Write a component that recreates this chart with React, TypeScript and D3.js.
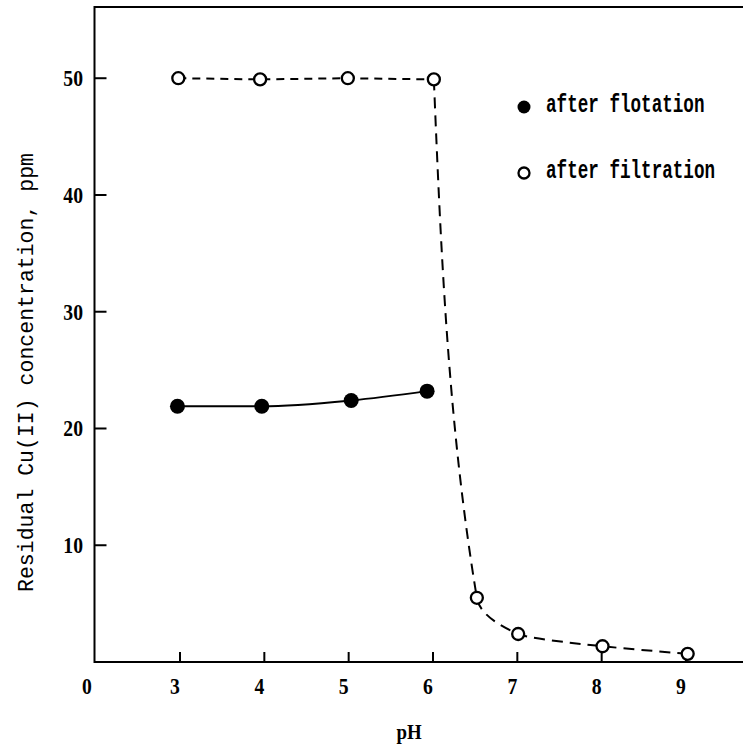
import React from "react";
import * as d3 from "d3";

// Residual Cu(II) concentration (ppm) versus pH
const filtrationPH = [2.98, 3.95, 4.99, 6.01, 6.52, 7.01, 8.01, 9.02];
const filtrationCu = [50.0, 49.9, 50.0, 49.9, 5.5, 2.4, 1.35, 0.7];
const flotationPH = [2.97, 3.97, 5.03, 5.93];
const flotationCu = [21.9, 21.9, 22.4, 23.2];

const xTickValues = [3, 4, 5, 6, 7, 8, 9];
const yTickValues = [10, 20, 30, 40, 50];
const legendLabels = ["after flotation", "after filtration"];
const xTitle = "pH";
const yTitle = "Residual Cu(II) concentration, ppm";

const W = 743;
const H = 747;
const frame = { left: 94.5, top: 7, bottom: 662, right: 743 };

const digitFont = "'Liberation Serif', 'DejaVu Serif', serif";
const monoFont = "'Liberation Mono', 'DejaVu Sans Mono', monospace";

// condensed bold numeral, anchored at (x, y)
function Num({ x, y, anchor, children }: { x: number; y: number; anchor: string; children: React.ReactNode }) {
  return (
    <text
      transform={`translate(${x},${y}) scale(0.82,1)`}
      textAnchor={anchor}
      fontFamily={digitFont}
      fontWeight="bold"
      fontSize={24}
      fill="#000"
    >
      {children}
    </text>
  );
}

export default function App() {
  const x = d3.scaleLinear().domain([3, 9]).range([180, 686]);
  const y = d3.scaleLinear().domain([0, 56.1]).range([frame.bottom, frame.top]);

  const filtration = filtrationPH.map((p, i) => [p, filtrationCu[i]] as [number, number]);
  const flotation = flotationPH.map((p, i) => [p, flotationCu[i]] as [number, number]);

  // plateau before the drop, then the steep decline traced as x(y)
  const plateau = filtration.slice(0, 4);
  const decline = filtration.slice(3);

  const linePlateau = d3
    .line<[number, number]>()
    .x((d) => x(d[0]))
    .y((d) => y(d[1]))
    .curve(d3.curveLinear);
  const lineDecline = d3
    .line<[number, number]>()
    .x((d) => x(d[0]))
    .y((d) => y(d[1]))
    .curve(d3.curveMonotoneY);
  const lineFlot = d3
    .line<[number, number]>()
    .x((d) => x(d[0]))
    .y((d) => y(d[1]))
    .curve(d3.curveMonotoneX);

  const legendX = 524;
  const legendY = [107, 173];

  return (
    <svg
      width={W}
      height={H}
      viewBox={`0 0 ${W} ${H}`}
      style={{ position: "absolute", left: 0, top: 0, background: "#fff" }}
    >
      <rect x={0} y={0} width={W} height={H} fill="#fff" />

      {/* frame: top, left and bottom edges */}
      <path
        d={`M${frame.right},${frame.top}H${frame.left}V${frame.bottom}H${frame.right}`}
        fill="none"
        stroke="#000"
        strokeWidth={2}
      />

      {/* y ticks and labels */}
      {yTickValues.map((v) => (
        <g key={`y${v}`}>
          <line x1={frame.left} x2={frame.left + 12} y1={y(v)} y2={y(v)} stroke="#000" strokeWidth={2} />
          <Num x={83} y={y(v) + 8} anchor="end">
            {v}
          </Num>
        </g>
      ))}

      {/* x ticks and labels */}
      {xTickValues.map((v) => (
        <g key={`x${v}`}>
          <line x1={x(v)} x2={x(v)} y1={frame.bottom} y2={frame.bottom - 10} stroke="#000" strokeWidth={2} />
          <Num x={x(v) - 5} y={694} anchor="middle">
            {v}
          </Num>
        </g>
      ))}
      <Num x={87} y={694} anchor="middle">
        0
      </Num>

      {/* axis titles */}
      <text
        transform="translate(409,739) scale(0.9,1)"
        textAnchor="middle"
        fontFamily={digitFont}
        fontWeight="bold"
        fontSize={21}
        fill="#000"
      >
        {xTitle}
      </text>
      <text
        transform={`translate(33, 372.5) rotate(-90)`}
        textAnchor="middle"
        fontFamily={monoFont}
        fontSize={22}
        textLength={439}
        lengthAdjust="spacingAndGlyphs"
        fill="#000"
      >
        {yTitle}
      </text>

      {/* after filtration: dashed curve */}
      <path
        d={linePlateau(plateau) || ""}
        fill="none"
        stroke="#000"
        strokeWidth={2}
        strokeDasharray="8,6"
      />
      <path
        d={lineDecline(decline) || ""}
        fill="none"
        stroke="#000"
        strokeWidth={2}
        strokeDasharray="11,7"
      />

      {/* after flotation: solid line */}
      <path d={lineFlot(flotation) || ""} fill="none" stroke="#000" strokeWidth={2} />

      {flotation.map((d, i) => (
        <circle key={`fl${i}`} cx={x(d[0])} cy={y(d[1])} r={7.5} fill="#000" />
      ))}
      {filtration.map((d, i) => (
        <circle
          key={`fi${i}`}
          cx={x(d[0])}
          cy={y(d[1])}
          r={6}
          fill="#fff"
          stroke="#000"
          strokeWidth={2.3}
        />
      ))}

      {/* legend */}
      <circle cx={legendX} cy={legendY[0]} r={6.5} fill="#000" />
      <circle cx={legendX} cy={legendY[1]} r={5.5} fill="#fff" stroke="#000" strokeWidth={2.3} />
      {legendLabels.map((t, i) => (
        <text
          key={t}
          transform={`translate(546,${legendY[i] + 5}) scale(0.705,1)`}
          fontFamily={monoFont}
          fontWeight="bold"
          fontSize={25}
          fill="#000"
        >
          {t}
        </text>
      ))}
    </svg>
  );
}
